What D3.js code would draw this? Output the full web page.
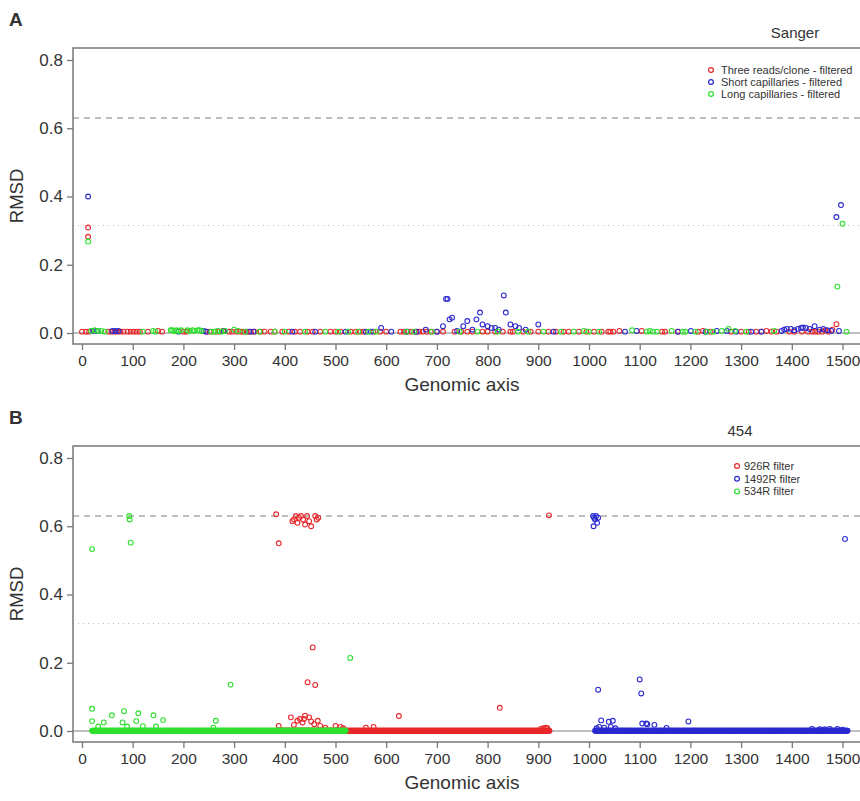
<!DOCTYPE html>
<html>
<head>
<meta charset="utf-8">
<script src="https://cdn.jsdelivr.net/npm/d3@7"></script>
<style>
  body { margin: 0; background: #fff; }
  text { font-family: "Liberation Sans", Arial, sans-serif; fill: #333; }
</style>
</head>
<body>
<div class="chart"></div>
<script>
// ---- data: [genomic position, RMSD] ----
// panel A (Sanger)
let sangerRed = [[0,0.004],[8,0.004],[12,0.309],[12,0.282],[14,0.004],[52,0.004],[58,0.004],[64,0.004],[70,0.004],[76,0.004],[82,0.004],[90,0.004],[96,0.004],[102,0.004],[108,0.004],[114,0.004],[130,0.004],[150,0.006],[158,0.004],[200,0.004],[206,0.004],[245,0.004],[252,0.004],[262,0.004],[270,0.004],[278,0.006],[290,0.004],[296,0.004],[305,0.004],[312,0.004],[318,0.004],[325,0.004],[333,0.004],[340,0.004],[352,0.004],[360,0.004],[372,0.004],[380,0.004],[395,0.004],[408,0.004],[420,0.004],[430,0.004],[445,0.004],[455,0.004],[470,0.004],[490,0.004],[500,0.004],[510,0.004],[530,0.004],[540,0.004],[548,0.004],[555,0.004],[575,0.004],[588,0.004],[600,0.004],[628,0.004],[635,0.004],[642,0.004],[650,0.004],[658,0.004],[665,0.004],[672,0.004],[680,0.004],[688,0.004],[700,0.004],[712,0.004],[735,0.004],[748,0.004],[760,0.004],[770,0.004],[790,0.004],[800,0.004],[815,0.004],[830,0.004],[845,0.004],[850,0.004],[870,0.004],[885,0.004],[900,0.004],[920,0.004],[935,0.004],[950,0.004],[960,0.004],[980,0.004],[995,0.004],[1010,0.004],[1025,0.004],[1038,0.004],[1042,0.004],[1048,0.004],[1060,0.006],[1104,0.006],[1144,0.004],[1150,0.004],[1175,0.004],[1215,0.004],[1225,0.006],[1240,0.004],[1280,0.004],[1300,0.004],[1315,0.004],[1330,0.004],[1340,0.004],[1350,0.006],[1360,0.004],[1370,0.004],[1395,0.004],[1405,0.004],[1420,0.004],[1432,0.004],[1440,0.004],[1446,0.004],[1452,0.004],[1460,0.004],[1466,0.008],[1472,0.004],[1480,0.01],[1488,0.026]]
let sangerBlue = [[12,0.40],[22,0.006],[30,0.006],[60,0.006],[66,0.006],[72,0.006],[190,0.004],[240,0.006],[245,0.004],[280,0.006],[330,0.004],[338,0.004],[415,0.004],[460,0.004],[520,0.004],[560,0.004],[570,0.004],[590,0.015],[610,0.004],[640,0.004],[660,0.004],[678,0.01],[700,0.004],[712,0.02],[718,0.10],[721,0.10],[725,0.04],[730,0.045],[740,0.006],[752,0.02],[760,0.035],[770,0.01],[778,0.04],[785,0.06],[790,0.025],[800,0.02],[808,0.015],[815,0.015],[822,0.01],[832,0.11],[836,0.06],[845,0.025],[855,0.02],[862,0.015],[875,0.01],[900,0.025],[930,0.004],[1071,0.004],[1094,0.006],[1176,0.004],[1201,0.006],[1230,0.004],[1252,0.006],[1272,0.006],[1290,0.004],[1320,0.004],[1340,0.004],[1380,0.006],[1385,0.01],[1390,0.012],[1398,0.012],[1405,0.008],[1412,0.012],[1418,0.015],[1422,0.016],[1428,0.015],[1435,0.012],[1445,0.02],[1455,0.01],[1462,0.012],[1470,0.008],[1478,0.006],[1488,0.34],[1493,0.006],[1497,0.375]]
let sangerGreen = [[12,0.268],[18,0.006],[25,0.008],[32,0.006],[38,0.006],[45,0.004],[120,0.004],[140,0.006],[145,0.004],[175,0.008],[178,0.008],[182,0.006],[186,0.008],[190,0.006],[195,0.008],[208,0.008],[212,0.006],[218,0.008],[222,0.006],[228,0.008],[232,0.008],[236,0.006],[255,0.004],[262,0.004],[268,0.006],[275,0.004],[282,0.006],[300,0.01],[308,0.006],[322,0.004],[350,0.004],[380,0.004],[400,0.004],[440,0.004],[480,0.004],[505,0.004],[525,0.004],[545,0.004],[565,0.004],[580,0.004],[640,0.004],[655,0.004],[690,0.004],[745,0.004],[780,0.004],[820,0.004],[860,0.004],[880,0.004],[910,0.004],[945,0.004],[970,0.004],[990,0.006],[1000,0.004],[1020,0.004],[1085,0.008],[1114,0.004],[1120,0.006],[1126,0.004],[1134,0.004],[1163,0.006],[1185,0.004],[1190,0.004],[1210,0.004],[1232,0.004],[1245,0.004],[1262,0.006],[1275,0.012],[1288,0.006],[1310,0.004],[1365,0.006],[1490,0.136],[1500,0.32],[1508,0.004]]

// panel B (454): continuous runs of near-zero RMSD [from, to], plus single points
let runRed = [[385, 922]]
let runBlue = [[1012, 1510]]
let runGreen = [[20, 520]]
let baseRMSD = 0.001
let f454Red = [[383,0.635],[388,0.55],[415,0.615],[418,0.62],[422,0.63],[425,0.61],[428,0.625],[432,0.63],[436,0.62],[440,0.605],[444,0.63],[448,0.615],[452,0.60],[460,0.63],[463,0.62],[466,0.625],[921,0.632],[455,0.245],[445,0.143],[460,0.135],[440,0.045],[388,0.015],[412,0.04],[418,0.018],[425,0.03],[430,0.035],[435,0.025],[438,0.035],[448,0.04],[452,0.028],[458,0.02],[465,0.03],[470,0.015],[480,0.01],[500,0.015],[510,0.012],[515,0.008],[560,0.01],[575,0.012],[625,0.044],[824,0.068],[905,0.006],[910,0.008],[915,0.01],[918,0.008]]
let f454Blue = [[1008,0.63],[1010,0.625],[1012,0.62],[1014,0.63],[1016,0.61],[1009,0.60],[1018,0.625],[1018,0.121],[1100,0.151],[1103,0.11],[1015,0.008],[1020,0.012],[1024,0.031],[1030,0.01],[1039,0.027],[1043,0.012],[1047,0.03],[1052,0.008],[1105,0.022],[1113,0.022],[1115,0.02],[1129,0.018],[1153,0.009],[1196,0.028],[1440,0.006],[1455,0.005],[1465,0.005],[1475,0.006],[1490,0.006],[1500,0.004],[1505,0.563]]
let f454Green = [[20,0.533],[93,0.63],[94,0.62],[96,0.552],[20,0.065],[20,0.029],[32,0.013],[43,0.025],[59,0.046],[80,0.025],[83,0.058],[89,0.013],[107,0.029],[111,0.052],[120,0.014],[141,0.046],[146,0.013],[160,0.032],[259,0.01],[264,0.03],[293,0.136],[529,0.214]]

let xTicks = d3.range(0, 1501, 100)
let yTicks = [0, 0.2, 0.4, 0.6, 0.8]
let colors = { red: "#e8272a", blue: "#2a2ad0", green: "#2ee02e" }

const width = 860
const height = 801

let svg = d3.select(".chart")
  .append("svg")
  .attr("width", width)
  .attr("height", height)

let x = d3.scaleLinear().domain([0, 1500]).range([82, 842.5])

function expand(runs) {
  let pts = []
  runs.forEach(r => d3.range(r[0], r[1] + 1).forEach(p => pts.push([p, baseRMSD])))
  return pts
}

function panel(top, letter, title, titleX, series, legend) {
  let g = svg.append("g").attr("transform", "translate(0," + top + ")")
  let y = d3.scaleLinear().domain([0, 0.8]).range([333, 60])
  let boxL = 73, boxT = 48, boxB = 344, boxR = 870

  // reference lines
  g.append("line").attr("x1", boxL).attr("x2", boxR)
    .attr("y1", y(0)).attr("y2", y(0))
    .attr("stroke", "#aaa").attr("stroke-width", 1.5)
  g.append("line").attr("x1", boxL).attr("x2", boxR)
    .attr("y1", y(0.63)).attr("y2", y(0.63))
    .attr("stroke", "#aaa").attr("stroke-width", 1.5).attr("stroke-dasharray", "6,5")
  g.append("line").attr("x1", boxL).attr("x2", boxR)
    .attr("y1", y(0.315)).attr("y2", y(0.315))
    .attr("stroke", "#bbb").attr("stroke-width", 1.2).attr("stroke-dasharray", "1,4")

  // points
  series.forEach(s => {
    g.append("g").selectAll("circle")
      .data(s.data)
      .enter()
      .append("circle")
      .attr("cx", d => x(d[0]))
      .attr("cy", d => y(d[1]))
      .attr("r", 2.4)
      .attr("fill", "none")
      .attr("stroke", s.color)
      .attr("stroke-width", 1.1)
  })

  // box
  g.append("rect").attr("x", boxL).attr("y", boxT)
    .attr("width", boxR - boxL).attr("height", boxB - boxT)
    .attr("fill", "none").attr("stroke", "#777").attr("stroke-width", 1.5)

  // axes
  let xAxis = d3.axisBottom(x).tickValues(xTicks).tickSize(6).tickPadding(5).tickFormat(d3.format("d"))
  let xg = g.append("g").attr("transform", "translate(0," + boxB + ")").call(xAxis)
  xg.select(".domain").remove()
  xg.selectAll(".tick text").attr("font-size", 15.5)
  let yAxis = d3.axisLeft(y).tickValues(yTicks).tickSize(6).tickPadding(4).tickFormat(d3.format(".1f"))
  let yg = g.append("g").attr("transform", "translate(" + boxL + ",0)").call(yAxis)
  yg.select(".domain").remove()
  yg.selectAll(".tick text").attr("font-size", 17)
  g.selectAll(".tick line").attr("stroke", "#777").attr("stroke-width", 1.3)
  g.selectAll(".tick text").attr("fill", "#3a3a3a")
    .style("font-family", "'Liberation Sans', Arial, sans-serif")

  g.append("text").attr("x", 462).attr("y", 391).attr("text-anchor", "middle")
    .attr("font-size", 19).text("Genomic axis")
  g.append("text").attr("transform", "translate(23,196) rotate(-90)")
    .attr("text-anchor", "middle").attr("font-size", 18.5).text("RMSD")
  g.append("text").attr("x", 9).attr("y", 26).attr("font-size", 19)
    .attr("font-weight", "bold").attr("fill", "#222").text(letter)
  g.append("text").attr("x", titleX).attr("y", 38).attr("text-anchor", "middle")
    .attr("font-size", 15).text(title)

  // legend
  legend.items.forEach((it, i) => {
    g.append("circle").attr("cx", legend.x).attr("cy", legend.y + i * legend.step)
      .attr("r", 2.4).attr("fill", "none").attr("stroke", it.color).attr("stroke-width", 1.2)
    g.append("text").attr("x", legend.x + legend.gap).attr("y", legend.y + i * legend.step + 4)
      .attr("font-size", 11).attr("fill", "#444").text(it.label)
  })
}

panel(0, "A", "Sanger", 795,
  [{ data: sangerRed, color: colors.red },
   { data: sangerBlue, color: colors.blue },
   { data: sangerGreen, color: colors.green }],
  { x: 711, y: 70, step: 12, gap: 10, items: [
    { label: "Three reads/clone - filtered", color: colors.red },
    { label: "Short capillaries - filtered", color: colors.blue },
    { label: "Long capillaries - filtered", color: colors.green }] })

panel(398, "B", "454", 740,
  [{ data: expand(runRed).concat(f454Red), color: colors.red },
   { data: expand(runBlue).concat(f454Blue), color: colors.blue },
   { data: expand(runGreen).concat(f454Green), color: colors.green }],
  { x: 737, y: 68, step: 12.7, gap: 7, items: [
    { label: "926R filter", color: colors.red },
    { label: "1492R filter", color: colors.blue },
    { label: "534R filter", color: colors.green }] })
</script>
</body>
</html>
